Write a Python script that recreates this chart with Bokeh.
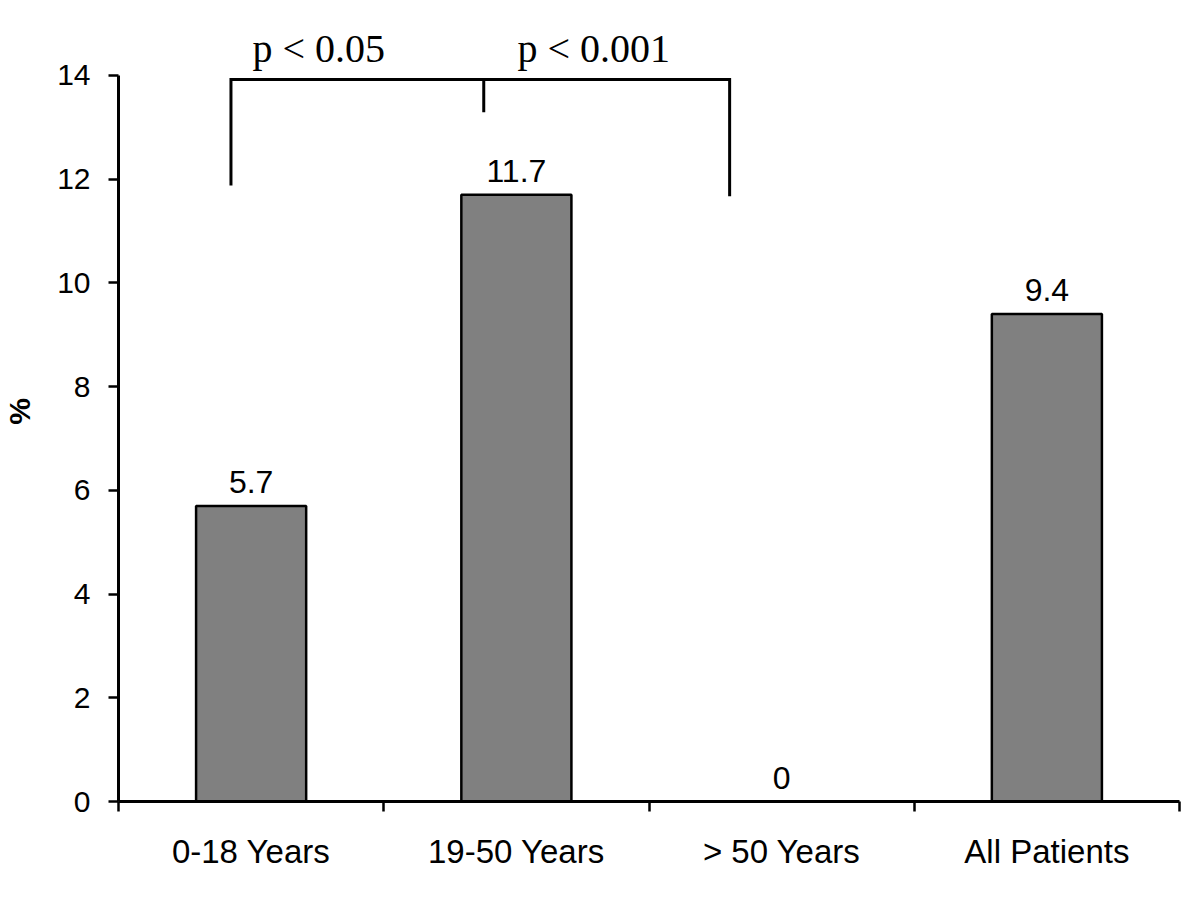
from bokeh.plotting import figure
from bokeh.models import Range1d, FixedTicker, Label, ColumnDataSource
from bokeh.embed import file_html
from bokeh.resources import INLINE
from bokeh.core.properties import value

# ---- data ----
categories = ["0-18 Years", "19-50 Years", "> 50 Years", "All Patients"]
percentages = [5.7, 11.7, 0.0, 9.4]
value_labels = ["5.7", "11.7", "0", "9.4"]
y_ticks = [0, 2, 4, 6, 8, 10, 12, 14]
comparison_texts = ["p < 0.05", "p < 0.001"]

# bracket annotation geometry (data units, category index space)
bracket_x = [0.424, 0.424, 2.304, 2.304]
bracket_y = [11.88, 13.92, 13.92, 11.67]
mid_tick_x = [1.377, 1.377]
mid_tick_y = [13.92, 13.29]
comparison_x = [0.755, 1.792]
comparison_y = [14.52, 14.52]

SANS = "Liberation Sans"
SERIF = "Liberation Serif"

x_pos = [i + 0.5 for i in range(len(categories))]
boundaries = list(range(len(categories) + 1))

src = ColumnDataSource(dict(x=x_pos, top=percentages, lbl=value_labels))

p = figure(
    frame_width=1061, frame_height=780,
    min_border_left=112, min_border_right=11, min_border_top=21, min_border_bottom=80,
    x_range=Range1d(0, len(categories)), y_range=Range1d(0, 15.04),
    output_backend="svg", toolbar_location=None,
)
p.outline_line_color = None
p.xgrid.visible = False
p.ygrid.visible = False
p.background_fill_color = "white"
p.border_fill_color = "white"

p.vbar(x="x", top="top", width=0.415, source=src,
       fill_color="#808080", line_color="black", line_width=2.5)

p.text(x="x", y="top", text="lbl", source=src,
       text_align="center", text_baseline="alphabetic", y_offset=-24,
       text_font=value(SANS), text_font_size="32px", text_color="black")

p.line(bracket_x, bracket_y, line_color="black", line_width=3, line_join="miter")
p.line(mid_tick_x, mid_tick_y, line_color="black", line_width=3)

for t, cx, cy in zip(comparison_texts, comparison_x, comparison_y):
    p.add_layout(Label(x=cx, y=cy, text=t, text_align="center", text_baseline="alphabetic",
                       text_font=SERIF, text_font_size="40px", text_color="black"))

# x axis: labels centred under bars, ticks at category boundaries
xa = p.xaxis[0]
xa.ticker = FixedTicker(ticks=x_pos, minor_ticks=boundaries)
xa.major_label_overrides = {xv: c for xv, c in zip(x_pos, categories)}
xa.major_tick_line_color = None
xa.minor_tick_line_color = "black"
xa.minor_tick_line_width = 2.5
xa.minor_tick_out = 10
xa.minor_tick_in = 0
xa.axis_line_color = "black"
xa.axis_line_width = 3
xa.major_label_text_font = SANS
xa.major_label_text_font_size = "33px"
xa.major_label_text_color = "black"
xa.major_label_standoff = 21

ya = p.yaxis[0]
ya.ticker = FixedTicker(ticks=y_ticks)
ya.bounds = (0, 14)
ya.major_tick_out = 10
ya.major_tick_in = 0
ya.major_tick_line_color = "black"
ya.major_tick_line_width = 2.5
ya.minor_tick_line_color = None
ya.axis_line_color = "black"
ya.axis_line_width = 3
ya.major_label_text_font = SANS
ya.major_label_text_font_size = "30px"
ya.major_label_text_color = "black"
ya.major_label_standoff = 18
ya.axis_label = "%"
ya.axis_label_text_font = SANS
ya.axis_label_text_font_style = "bold"
ya.axis_label_text_font_size = "30px"
ya.axis_label_text_color = "black"
ya.axis_label_standoff = 18

open("out.html", "w").write(file_html(p, INLINE))
